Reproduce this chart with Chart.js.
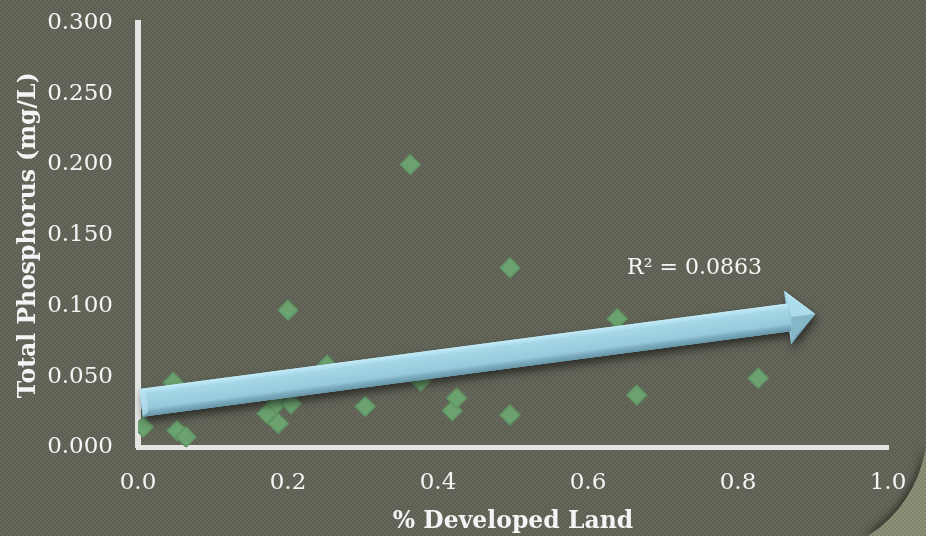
<!DOCTYPE html>
<html>
<head>
<meta charset="utf-8">
<title>Total Phosphorus vs % Developed Land</title>
<script src="https://cdn.jsdelivr.net/npm/chart.js@4.4.1/dist/chart.umd.min.js"></script>
<style>
  html, body { margin: 0; padding: 0; background: #606256; }
  canvas { display: block; }
</style>
</head>
<body>
<canvas id="tp" width="926" height="536"></canvas>
<script>
// sampled sites: share of developed land vs. total phosphorus (mg/L)
const developedLand = [0.007, 0.047, 0.052, 0.064, 0.172, 0.185, 0.187, 0.204, 0.200, 0.252,
                       0.303, 0.363, 0.377, 0.419, 0.425, 0.496, 0.496, 0.639, 0.665, 0.827];
const totalPhosphorus = [0.0145, 0.046, 0.012, 0.0075, 0.024, 0.031, 0.017, 0.031, 0.097, 0.058,
                         0.029, 0.200, 0.047, 0.026, 0.035, 0.127, 0.023, 0.091, 0.037, 0.049];

// linear trend, drawn as a bevelled arrow
const trendX = [0.004, 0.903];
const trendY = [0.0315, 0.0944];
const rSquared = "0.0863";
const rLabelAt = [0.742, 0.127];

const xTicks = [0, 0.2, 0.4, 0.6, 0.8, 1.0];
const yTicks = [0, 0.05, 0.1, 0.15, 0.2, 0.25, 0.3];

const serif = "'DejaVu Serif', serif";

// small checker used for the textured slide background
function checker(light, dark) {
  const c = document.createElement("canvas");
  c.width = c.height = 4;
  const g = c.getContext("2d");
  g.fillStyle = light;
  g.fillRect(0, 0, 2, 2);
  g.fillRect(2, 2, 2, 2);
  g.fillStyle = dark;
  g.fillRect(2, 0, 2, 2);
  g.fillRect(0, 2, 2, 2);
  return c;
}

const paper = {
  id: "paper",
  beforeDraw(chart) {
    const { ctx, width, height } = chart;
    ctx.save();
    ctx.fillStyle = "#616357";
    ctx.fillRect(0, 0, width, height);
    ctx.fillStyle = ctx.createPattern(checker("rgba(255,255,255,0.035)", "rgba(0,0,0,0.035)"), "repeat");
    ctx.fillRect(0, 0, width, height);

    // page curl in the bottom right corner
    const curl = new Path2D();
    curl.moveTo(width - 58, height);
    curl.quadraticCurveTo(width - 11, height - 31, width, height - 88);
    curl.lineTo(width, height);
    curl.closePath();
    ctx.save();
    ctx.shadowColor = "rgba(20,20,10,0.6)";
    ctx.shadowBlur = 7;
    ctx.shadowOffsetX = -2;
    ctx.shadowOffsetY = -2;
    ctx.fillStyle = "#878a70";
    ctx.fill(curl);
    ctx.restore();
    ctx.fillStyle = ctx.createPattern(checker("rgba(255,255,255,0.08)", "rgba(0,0,0,0.05)"), "repeat");
    ctx.fill(curl);
    ctx.restore();
  }
};

const trendArrow = {
  id: "trendArrow",
  afterDatasetsDraw(chart) {
    const { ctx, scales: { x, y } } = chart;
    const p0 = { x: x.getPixelForValue(trendX[0]), y: y.getPixelForValue(trendY[0]) };
    const p1 = { x: x.getPixelForValue(trendX[1]), y: y.getPixelForValue(trendY[1]) };
    const len = Math.hypot(p1.x - p0.x, p1.y - p0.y);
    const u = { x: (p1.x - p0.x) / len, y: (p1.y - p0.y) / len };
    const n = { x: -u.y, y: u.x };
    const hw = 14, hl = 28, hh = 27;
    const at = (p, a, b) => ({ x: p.x + u.x * a + n.x * b, y: p.y + u.y * a + n.y * b });
    const pb = at(p1, -hl, 0);
    const poly = pts => {
      const path = new Path2D();
      pts.forEach((p, i) => (i ? path.lineTo(p.x, p.y) : path.moveTo(p.x, p.y)));
      path.closePath();
      return path;
    };

    const outline = poly([at(p0, 0, -hw), at(pb, 0, -hw), at(pb, 0, -hh), p1,
                          at(pb, 0, hh), at(pb, 0, hw), at(p0, 0, hw)]);

    ctx.save();
    // drop shadow
    ctx.shadowColor = "rgba(0,0,0,0.55)";
    ctx.shadowBlur = 8;
    ctx.shadowOffsetX = 2;
    ctx.shadowOffsetY = 5;
    ctx.fillStyle = "#95c6d8";
    ctx.fill(outline);
    ctx.restore();

    ctx.save();
    // shaft faces
    const a = at(p0, 0, -hw), b = at(p0, 0, hw);
    const grad = ctx.createLinearGradient(a.x, a.y, b.x, b.y);
    grad.addColorStop(0, "#c4ebf6");
    grad.addColorStop(0.14, "#afdfee");
    grad.addColorStop(0.2, "#a6d7e7");
    grad.addColorStop(0.72, "#98c9db");
    grad.addColorStop(0.82, "#7fb0c3");
    grad.addColorStop(1, "#6795a8");
    ctx.fillStyle = grad;
    ctx.fill(poly([at(p0, 0, -hw), at(pb, 2, -hw), at(pb, 2, hw), at(p0, 0, hw)]));

    // end cap
    ctx.fillStyle = "rgba(190,228,240,0.55)";
    ctx.fill(poly([at(p0, 0, -hw), at(p0, 6, -hw + 4), at(p0, 6, hw - 4), at(p0, 0, hw)]));

    // head: light upper facet, shaded lower facet
    const facet = (pts, fill) => { ctx.fillStyle = fill; ctx.fill(poly(pts)); };
    facet([at(pb, 0, -hh), p1, at(pb, 4, 0)], "#acdcec");
    facet([at(pb, 0, hh), p1, at(pb, 4, 0)], "#86b7c9");
    facet([at(pb, 0, -hh), at(pb, 5, -hh + 7), p1], "#c0e7f3");
    facet([at(pb, 0, hh), at(pb, 5, hh - 7), p1], "#6f9fb2");
    ctx.restore();

    // R² label
    ctx.save();
    ctx.fillStyle = "#f6f6f6";
    ctx.font = "22px " + serif;
    ctx.textAlign = "center";
    ctx.textBaseline = "middle";
    ctx.fillText("R\u00b2 = " + rSquared, x.getPixelForValue(rLabelAt[0]), y.getPixelForValue(rLabelAt[1]));
    ctx.restore();
  }
};

new Chart(document.getElementById("tp"), {
  type: "scatter",
  data: {
    datasets: [{
      label: "Total Phosphorus",
      data: developedLand.map((v, i) => ({ x: v, y: totalPhosphorus[i] })),
      pointStyle: "rectRot",
      pointRadius: 10,
      pointHoverRadius: 10,
      backgroundColor: "#6ca270",
      borderColor: "#5f9263",
      borderWidth: 1.5
    }]
  },
  options: {
    responsive: false,
    animation: false,
    layout: { padding: { left: 0, top: 23, right: 38, bottom: 0 } },
    plugins: { legend: { display: false }, tooltip: { enabled: false } },
    scales: {
      x: {
        type: "linear",
        min: 0,
        max: 1,
        afterFit(s) { s.height = 88.5; s.paddingLeft = 0; s.paddingRight = 0; },
        afterBuildTicks(s) { s.ticks = xTicks.map(v => ({ value: v })); },
        grid: { display: false, drawTicks: false },
        border: { color: "#e4e4e4", width: 5 },
        ticks: {
          color: "#f4f4f4",
          font: { family: serif, size: 23 },
          padding: 22,
          callback: v => v.toFixed(1)
        },
        title: {
          display: true,
          text: "% Developed Land",
          color: "#f4f4f4",
          font: { family: serif, size: 23.5, weight: "bold" },
          padding: { top: 0, bottom: 0 }
        }
      },
      y: {
        type: "linear",
        min: 0,
        max: 0.3,
        afterFit(s) { s.width = 138; s.paddingTop = 0; s.paddingBottom = 0; },
        afterBuildTicks(s) { s.ticks = yTicks.map(v => ({ value: v })); },
        grid: { display: false, drawTicks: false },
        border: { color: "#e4e4e4", width: 6 },
        ticks: {
          color: "#f4f4f4",
          font: { family: serif, size: 23 },
          padding: 25,
          callback: v => v.toFixed(3)
        },
        title: {
          display: true,
          text: "Total Phosphorus (mg/L)",
          color: "#f4f4f4",
          font: { family: serif, size: 23.5, weight: "bold" },
          padding: { top: 15, bottom: 0 }
        }
      }
    }
  },
  plugins: [paper, trendArrow]
});
</script>
</body>
</html>
